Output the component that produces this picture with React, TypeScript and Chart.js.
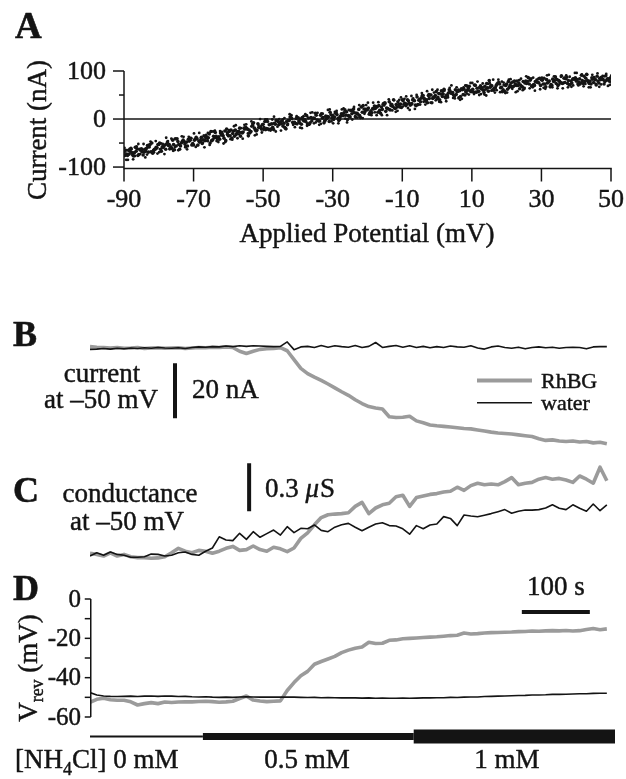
import React, { useEffect, useRef } from 'react';
import { Chart, registerables } from 'chart.js';

Chart.register(...registerables);

const FONT = '"Liberation Serif", "Times New Roman", serif';
const INK = '#141414';
const GREY = '#9b9b9b';

// ---------- Panel A : I-V relation ----------
const potentialStart = -90;
const potentialStep = 1;
const sweepOffsets = [0, 0.25, 0.5, 0.75, 0.125, 0.625];
const potentialTicks = [-90, -70, -50, -30, -10, 10, 30, 50];
const currentTicks = [-100, -50, 0, 50, 100];
const currentLabels = [-100, 0, 100];

const sweep1 = [
  -69, -76, -61, -70, -76, -62, -63, -69, -50, -63,
  -53, -58, -63, -53, -44, -56, -63, -44, -48, -44,
  -54, -41, -45, -35, -45, -26, -39, -42, -33, -25,
  -35, -40, -23, -26, -29, -17, -23, -10, -25, -17,
  -11, -20, -11, -22, -3, -6, -9, -12, 3, -7,
  2, -11, -1, 2, -4, 12, -4, 2, 6, -5,
  7, 13, 3, 7, 15, 4, 21, 12, 3, 21,
  20, 17, 27, 14, 25, 34, 21, 30, 22, 30,
  40, 28, 33, 40, 28, 41, 49, 40, 50, 45,
  42, 52, 62, 48, 54, 48, 58, 63, 50, 64,
  59, 70, 58, 65, 62, 80, 61, 70, 73, 61,
  73, 70, 68, 79, 71, 63, 78, 84, 70, 77,
  82, 73, 77, 70, 88, 80, 74, 84, 71, 83,
  79, 84, 74, 93, 79, 76, 89, 82, 73, 84,
  87,
];
const sweep2 = [
  -76, -65, -70, -59, -74, -64, -67, -58, -71, -59,
  -50, -59, -52, -61, -53, -41, -56, -47, -56, -40,
  -44, -54, -38, -45, -39, -45, -28, -37, -31, -45,
  -26, -30, -32, -19, -27, -20, -28, -8, -23, -16,
  -18, -5, -21, -9, -5, -10, -18, -3, 1, -9,
  -4, 3, -5, -11, 1, 8, -4, 3, 1, 14,
  -1, 9, 6, 13, -1, 18, 13, 10, 25, 15,
  23, 13, 22, 28, 20, 16, 36, 26, 30, 25,
  38, 31, 29, 39, 46, 36, 43, 34, 50, 46,
  45, 59, 46, 54, 53, 61, 44, 61, 57, 68,
  62, 56, 66, 60, 74, 66, 60, 73, 65, 71,
  62, 75, 79, 70, 68, 75, 86, 69, 78, 75,
  81, 67, 79, 83, 74, 78, 75, 87, 72, 84,
  82, 75, 89, 80, 73, 84, 79, 87, 78, 83,
  76,
];
const sweep3 = [
  -65, -73, -75, -67, -63, -75, -61, -53, -65, -60,
  -63, -55, -48, -58, -64, -47, -50, -52, -42, -54,
  -42, -46, -51, -39, -31, -43, -36, -42, -35, -21,
  -35, -25, -29, -36, -19, -21, -26, -19, -10, -21,
  -5, -21, -10, -11, -12, -4, -20, -3, -7, 1,
  -8, -2, 7, -8, 2, -2, 8, -8, 5, 9,
  4, 1, 11, 19, 7, 11, 5, 20, 14, 20,
  10, 22, 26, 18, 31, 23, 19, 40, 25, 31,
  31, 40, 30, 38, 30, 44, 41, 49, 34, 49,
  53, 47, 44, 61, 55, 51, 59, 51, 69, 59,
  56, 64, 69, 55, 65, 70, 64, 75, 66, 57,
  78, 67, 73, 75, 67, 79, 73, 67, 77, 85,
  73, 82, 67, 78, 82, 76, 85, 74, 79, 83,
  73, 91, 78, 77, 86, 82, 75, 83, 90, 79,
  86,
];
const sweep4 = [
  -73, -67, -77, -62, -65, -69, -55, -68, -63, -53,
  -67, -54, -55, -61, -41, -53, -47, -57, -46, -51,
  -38, -48, -43, -37, -50, -36, -40, -29, -40, -32,
  -23, -36, -26, -28, -21, -35, -15, -23, -17, -12,
  -22, -12, -17, -3, -10, -15, -5, 4, -8, -10,
  0, -4, -10, 3, 1, -3, 11, -4, 4, 2,
  12, -3, 10, 8, 6, 17, 12, 7, 28, 19,
  14, 21, 25, 12, 29, 22, 28, 23, 36, 24,
  33, 38, 32, 29, 39, 49, 37, 43, 43, 57,
  40, 52, 50, 58, 50, 57, 47, 62, 60, 57,
  71, 57, 63, 68, 58, 69, 65, 76, 57, 70,
  66, 77, 70, 63, 78, 74, 81, 72, 77, 70,
  85, 75, 72, 80, 70, 90, 76, 80, 75, 86,
  77, 80, 85, 74, 83, 71, 85, 82, 81, 85,
  80,
];
const sweep5 = [
  -60, -85, -63, -77, -52, -69, -80, -54, -68, -46,
  -69, -52, -39, -63, -66, -42, -55, -37, -63, -40,
  -30, -55, -40, -59, -29, -45, -24, -48, -27, -48,
  -23, -43, -13, -32, -41, -11, -30, -14, -32, 0,
  -23, -1, -24, 5, -16, -24, 2, -10, 8, -17,
  3, -19, 10, -12, 14, -7, -12, 11, -1, 20,
  -9, 17, -1, 22, -7, 17, 25, 3, 25, 11,
  34, 8, 14, 35, 8, 32, 41, 18, 15, 40,
  26, 47, 19, 43, 50, 30, 36, 58, 34, 55,
  61, 35, 59, 45, 70, 43, 61, 42, 70, 51,
  75, 56, 50, 74, 49, 75, 82, 60, 56, 76,
  55, 83, 78, 58, 84, 65, 87, 68, 59, 84,
  86, 63, 92, 66, 85, 72, 64, 91, 88, 70,
  96, 72, 68, 92, 66, 87, 95, 72, 89, 69,
  91,
];
const sweep6 = [
  -85, -62, -84, -57, -73, -52, -74, -47, -69, -72,
  -51, -73, -46, -41, -58, -65, -36, -59, -37, -54,
  -58, -29, -49, -33, -54, -26, -46, -25, -51, -28,
  -42, -15, -40, -19, -12, -30, -5, -34, -12, -28,
  -1, -23, -1, -26, 0, -1, -21, 10, -12, 6,
  -18, 6, -14, 13, -9, 13, -10, -4, 19, -5,
  15, -9, 20, 1, 19, -1, 3, 29, 2, 29,
  11, 34, 8, 13, 33, 8, 32, 39, 17, 45,
  42, 23, 48, 21, 30, 54, 30, 52, 61, 39,
  36, 57, 37, 65, 44, 66, 40, 66, 53, 75,
  52, 78, 52, 51, 73, 59, 55, 82, 78, 54,
  82, 63, 56, 81, 60, 89, 64, 86, 82, 62,
  65, 91, 68, 89, 64, 88, 86, 66, 67, 96,
  70, 93, 73, 66, 92, 73, 67, 90, 94, 71,
  69,
];
const sweeps = [sweep1, sweep2, sweep3, sweep4, sweep5, sweep6];

// ---------- Panels B-D : time courses (10 s sampling) ----------
const timeStep = 10;
const timeMax = 772;

const rhbgCurrent = [
  0.5, 0.3, 0.2, 0, 0.2, -0.1, 0, 0.2, -0.2, 0,
  0.1, -0.1, 0, 0.1, -0.2, 0, 0.2, 0.1, 0.3, 0.2,
  0.4, 0.2, -1.2, -2, -1.2, -0.5, -0.3, -0.2, 0.1, -1.0,
  -4.2, -7.4, -9.3, -10.6, -11.8, -13.1, -14.5, -15.9, -17.2, -18.8,
  -20.2, -21.3, -21.8, -22.2, -25, -25.3, -25.2, -24.8, -26.5, -27.2,
  -28, -28.3, -28.5, -28.7, -29, -29.3, -29.4, -29.8, -30.2, -30.6,
  -30.9, -31.1, -31.3, -31.6, -31.9, -32.2, -33, -33.6, -33.4, -33.8,
  -34, -33.8, -34.2, -34, -34.5, -34.3, -34.8,
];
const waterCurrent = [
  -0.5, -0.4, -0.2, -0.4, -0.1, -0.3, 0, -0.2, 0.1, -0.1,
  0.2, 0, -0.1, 0.1, -0.2, 0.2, 0.4, 0.3, 0.5, 0.4,
  0.7, 0.5, 0.8, 0.6, 0.8, 0.7, 0.6, 0.5, 0.6, 2.2,
  -0.6, 0.4, 0.6, 0.2, 0.9, 0.3, 0.8, 0.5, 0.3, 0.9,
  0.2, 0.6, 2.0, 0.2, 0.6, 0.9, 0.3, 0.8, 0.2, 0.6,
  0.1, 0.5, 0.2, 0.7, 0.4, 0.3, 0.8, 0, -0.4, 0.4,
  0.7, 0.2, -0.1, 0.3, -0.3, 0.2, 0.4, 0.1, 0.3, -0.1,
  0.2, 0.3, 0.2, -0.3, 0.4, 0.5, 0.5,
];
const rhbgConductance = [
  0.017, 0.01, 0, 0.02, 0, 0.01, -0.005, -0.01, -0.01, -0.014,
  -0.012, -0.005, 0.02, 0.048, 0.03, 0.02, 0.035, 0.03, 0.017, 0.03,
  0.048, 0.06, 0.035, 0.04, 0.0625, 0.04, 0.03, 0.055, 0.045, 0.027,
  0.05, 0.11, 0.145, 0.195, 0.24, 0.258, 0.262, 0.265, 0.27, 0.31,
  0.335, 0.265, 0.3, 0.32, 0.33, 0.37, 0.38, 0.31, 0.365, 0.375,
  0.385, 0.39, 0.4, 0.405, 0.43, 0.41, 0.44, 0.455, 0.445, 0.45,
  0.445, 0.465, 0.49, 0.445, 0.455, 0.46, 0.48, 0.49, 0.48, 0.485,
  0.475, 0.46, 0.5, 0.48, 0.455, 0.555, 0.47,
];
const waterConductance = [
  0, 0.02, 0.005, 0.025, 0.01, 0.005, -0.008, -0.008, -0.005, 0.012,
  0.01, 0, 0.005, 0.02, 0.025, 0.01, 0.005, 0.03, 0.05, 0.12,
  0.1, 0.096, 0.142, 0.104, 0.152, 0.117, 0.14, 0.162, 0.131, 0.183,
  0.146, 0.173, 0.17, 0.194, 0.16, 0.152, 0.18, 0.195, 0.204, 0.18,
  0.158, 0.18, 0.2, 0.208, 0.19, 0.1875, 0.17, 0.136, 0.19, 0.17,
  0.194, 0.2, 0.246, 0.235, 0.19, 0.256, 0.25, 0.245, 0.255, 0.265,
  0.277, 0.29, 0.267, 0.28, 0.287, 0.287, 0.29, 0.3, 0.32, 0.298,
  0.29, 0.32, 0.298, 0.28, 0.325, 0.283, 0.32,
];
const rhbgVrev = [
  -52.5, -51, -50.5, -51.2, -51.5, -51.5, -52.3, -53.9, -53.2, -52.7,
  -53.2, -52.4, -52.6, -52.4, -52.3, -52.3, -52.1, -52, -52.2, -52.5,
  -52.3, -52, -50.6, -49.3, -51.4, -51.9, -52.2, -52, -51.8, -46.5,
  -42.5, -39, -36.8, -33.2, -31.8, -30.5, -29.2, -27.3, -26, -25,
  -24.4, -22, -22.6, -22.5, -21, -20.8, -20.2, -20, -19.8, -19.6,
  -19.4, -19.2, -18.9, -18.6, -18.4, -17.3, -17.8, -17.6, -17.3, -17.1,
  -17, -16.9, -16.8, -16.6, -16.5, -16.3, -16.4, -16.2, -16.1, -16.2,
  -16, -16.3, -16.1, -15.5, -15, -15.6, -15.2,
];
const waterVrev = [
  -47.6, -48.8, -49.3, -49.5, -49.6, -49.5, -49.4, -49.6, -49.4, -49.3,
  -49.5, -49.3, -49.4, -49.6, -49.5, -49.7, -49.8, -49.7, -49.9, -50.0,
  -49.9, -50.0, -49.8, -49.7, -49.8, -49.9, -49.8, -49.9, -49.9, -49.8,
  -49.9, -50.0, -50.1, -50.0, -50.2, -50.1, -50.2, -50.3, -50.2, -50.3,
  -50.4, -50.3, -50.5, -50.4, -50.5, -50.5, -50.4, -50.5, -50.4, -50.3,
  -50.3, -50.2, -50.2, -50.0, -50.1, -49.9, -49.8, -49.8, -49.6, -49.5,
  -49.4, -49.3, -49.2, -49.1, -49.0, -48.8, -48.8, -48.7, -48.5, -48.5,
  -48.4, -48.3, -48.2, -48.2, -48.0, -47.9, -47.9,
];
const vrevTicks = [0, -10, -20, -30, -40, -50, -60];
const vrevLabels = [0, -20, -40, -60];

// [NH4Cl] protocol (s)
const nh4Labels = ['0 mM', '0.5 mM', '1 mM'];
const nh4Start = [0, 166, 476];
const nh4End = [166, 476, 772];

// scale bars (in data units)
const currentBar = { t: 125, from: -5.5, size: 20 }; // 20 nA
const conductanceBar = { t: 234, from: 0.58, size: 0.3 }; // 0.3 µS
const timeBar = { from: 635, size: 100, v: -6.6 }; // 100 s

// ---------- helpers ----------
type Opt = { align?: CanvasTextAlign; base?: CanvasTextBaseline; bold?: boolean; italic?: boolean };
function txt(ctx: CanvasRenderingContext2D, s: string, x: number, y: number, size: number, o: Opt = {}) {
  ctx.save();
  ctx.font = `${o.italic ? 'italic ' : ''}${o.bold ? 'bold ' : ''}${size}px ${FONT}`;
  ctx.fillStyle = INK;
  ctx.strokeStyle = INK;
  ctx.lineWidth = o.bold ? 0.6 : 0.45;
  ctx.lineJoin = 'round';
  ctx.textAlign = o.align || 'left';
  ctx.textBaseline = o.base || 'alphabetic';
  ctx.fillText(s, x, y);
  ctx.strokeText(s, x, y);
  ctx.restore();
}
function seg(ctx: CanvasRenderingContext2D, x1: number, y1: number, x2: number, y2: number, w: number, c = INK) {
  ctx.save();
  ctx.strokeStyle = c;
  ctx.lineWidth = w;
  ctx.lineCap = 'butt';
  ctx.beginPath();
  ctx.moveTo(x1, y1);
  ctx.lineTo(x2, y2);
  ctx.stroke();
  ctx.restore();
}
const series = (arr: number[]) => arr.map((v, i) => ({ x: i * timeStep, y: v }));

const TOP_H = 260;
const BOT_TOP = 260;
const BOT_H = 519;
function rangeFor(zeroPageY: number, pxPerUnit: number) {
  return {
    min: (zeroPageY - (BOT_TOP + BOT_H)) / pxPerUnit,
    max: (zeroPageY - BOT_TOP) / pxPerUnit,
  };
}

const panelAPlugin = {
  id: 'panelA',
  afterDraw(chart: any) {
    const { ctx, chartArea: ca } = chart;
    const xs = chart.scales.x;
    const ys = chart.scales.y;
    seg(ctx, ca.left, ca.top, ca.left, ca.bottom + 0.75, 1.5);
    seg(ctx, ca.left, ca.bottom, ca.right + 0.75, ca.bottom, 1.5);
    potentialTicks.forEach((v) => {
      const px = xs.getPixelForValue(v);
      seg(ctx, px, ca.bottom, px, ca.bottom + 13, 1.5);
      txt(ctx, String(v), px, ca.bottom + 32, 26, { align: 'center', base: 'middle' });
    });
    currentTicks.forEach((v) => {
      const py = ys.getPixelForValue(v);
      const major = currentLabels.includes(v);
      seg(ctx, ca.left - (major ? 11 : 5), py, ca.left, py, 1.5);
      if (major) txt(ctx, String(v), ca.left - 18, py + 1, 26, { align: 'right', base: 'middle' });
    });
    txt(ctx, 'A', 15, 38, 37, { bold: true });
    txt(ctx, 'Applied Potential (mV)', 367, 242, 27, { align: 'center' });
    ctx.save();
    ctx.translate(46, 130);
    ctx.rotate(-Math.PI / 2);
    txt(ctx, 'Current (nA)', 0, 0, 27, { align: 'center' });
    ctx.restore();
  },
};

const panelBCDPlugin = {
  id: 'panelBCD',
  afterDraw(chart: any) {
    const { ctx } = chart;
    const o = BOT_TOP;
    const yD = chart.scales.yD;
    const xs = chart.scales.x;
    // D axis
    const ax = xs.getPixelForValue(0) + 0.75;
    seg(ctx, ax, yD.getPixelForValue(0), ax, yD.getPixelForValue(-60), 1.5);
    vrevTicks.forEach((v) => {
      const py = yD.getPixelForValue(v);
      seg(ctx, ax - 6, py, ax, py, 1.5);
      if (vrevLabels.includes(v)) txt(ctx, String(v), 81, py + 1, 25, { align: 'right', base: 'middle' });
    });
    // panel letters
    txt(ctx, 'B', 13, 346 - o, 36, { bold: true });
    txt(ctx, 'C', 13, 502 - o, 36, { bold: true });
    txt(ctx, 'D', 13, 600 - o, 36, { bold: true });
    // B annotations
    txt(ctx, 'current', 102, 382 - o, 27, { align: 'center' });
    txt(ctx, 'at \u201350 mV', 101, 408 - o, 27, { align: 'center' });
    txt(ctx, '20 nA', 192, 398 - o, 27);
    // legend
    seg(ctx, 477, 380.5 - o, 532, 380.5 - o, 4, GREY);
    seg(ctx, 477, 402.7 - o, 532, 402.7 - o, 1.6, INK);
    txt(ctx, 'RhBG', 541, 388 - o, 22);
    txt(ctx, 'water', 541, 410 - o, 22);
    // C annotations
    txt(ctx, 'conductance', 130, 502 - o, 27, { align: 'center' });
    txt(ctx, 'at \u201350 mV', 127, 530 - o, 27, { align: 'center' });
    ctx.save();
    ctx.font = `27px ${FONT}`;
    const w03 = ctx.measureText('0.3 ').width;
    ctx.font = `italic 27px ${FONT}`;
    const wmu = ctx.measureText('\u03bc').width;
    ctx.restore();
    txt(ctx, '0.3 ', 265, 497 - o, 27);
    txt(ctx, '\u03bc', 265 + w03, 497 - o, 27, { italic: true });
    txt(ctx, 'S', 265 + w03 + wmu + 1, 497 - o, 27);
    // D annotations
    txt(ctx, '100 s', 556, 595 - o, 27, { align: 'center' });
    // Vrev axis title
    ctx.save();
    ctx.translate(37, 668 - o);
    ctx.rotate(-Math.PI / 2);
    ctx.font = `27px ${FONT}`;
    const wV = ctx.measureText('V').width;
    const wTail = ctx.measureText(' (mV)').width;
    ctx.font = `18px ${FONT}`;
    const wSub = ctx.measureText('rev').width;
    const start = -(wV + wSub + wTail) / 2;
    txt(ctx, 'V', start, 0, 27);
    txt(ctx, 'rev', start + wV, 6, 18);
    txt(ctx, ' (mV)', start + wV + wSub, 0, 27);
    ctx.restore();
    // [NH4Cl] labels
    ctx.save();
    ctx.font = `27px ${FONT}`;
    const wNH = ctx.measureText('[NH').width;
    ctx.font = `18px ${FONT}`;
    const w4 = ctx.measureText('4').width;
    ctx.restore();
    txt(ctx, '[NH', 15, 768 - o, 27);
    txt(ctx, '4', 15 + wNH, 775 - o, 18);
    txt(ctx, 'Cl] ' + nh4Labels[0], 15 + wNH + w4, 768 - o, 27);
    txt(ctx, nh4Labels[1], 307, 768 - o, 27, { align: 'center' });
    txt(ctx, nh4Labels[2], 507, 768 - o, 27, { align: 'center' });
  },
};

function traceDS(label: string, data: number[], axis: string, grey: boolean) {
  return {
    label,
    data: series(data),
    yAxisID: axis,
    borderColor: grey ? GREY : INK,
    borderWidth: grey ? 3.6 : 1.6,
    pointRadius: 0,
    borderJoinStyle: 'round' as const,
    tension: 0,
    order: grey ? 2 : 1,
  };
}
function barDS(label: string, pts: { x: number; y: number }[], axis: string, w: number) {
  return {
    label,
    data: pts,
    yAxisID: axis,
    borderColor: INK,
    borderWidth: w,
    borderCapStyle: 'butt' as const,
    pointRadius: 0,
    order: 0,
  };
}

export default function App() {
  const refA = useRef<HTMLCanvasElement>(null);
  const refB = useRef<HTMLCanvasElement>(null);

  useEffect(() => {
    const chartA = new Chart(refA.current as HTMLCanvasElement, {
      type: 'scatter',
      data: {
        datasets: [
          {
            type: 'line',
            label: 'zero current',
            data: [
              { x: potentialStart, y: 0 },
              { x: potentialTicks[potentialTicks.length - 1], y: 0 },
            ],
            borderColor: INK,
            borderWidth: 1.5,
            pointRadius: 0,
            order: 2,
          } as any,
          ...sweeps.map((s, k) => ({
            label: `sweep ${k + 1}`,
            data: s.map((v, i) => ({ x: potentialStart + i * potentialStep + sweepOffsets[k], y: v })),
            pointRadius: k < 4 ? 1.8 : 1.4,
            pointBackgroundColor: INK,
            pointBorderWidth: 0,
            showLine: false,
            order: 1,
          })),
        ],
      },
      options: {
        responsive: false,
        animation: false,
        devicePixelRatio: 1,
        events: [],
        layout: { padding: { left: 124, right: 15, top: 71, bottom: 91.5 } },
        plugins: { legend: { display: false }, tooltip: { enabled: false } },
        scales: {
          x: { type: 'linear', display: false, min: -90, max: 50 },
          y: { type: 'linear', display: false, min: -103, max: 100 },
        },
      },
      plugins: [panelAPlugin],
    });

    const rB = rangeFor(348, 2.75);
    const rC = rangeFor(556, 160);
    const rD = rangeFor(599, 118 / 60);
    const rBar = rangeFor(736.5, 1);

    const chartB = new Chart(refB.current as HTMLCanvasElement, {
      type: 'line',
      data: {
        datasets: [
          traceDS('water current', waterCurrent, 'yB', false),
          traceDS('RhBG current', rhbgCurrent, 'yB', true),
          traceDS('water conductance', waterConductance, 'yC', false),
          traceDS('RhBG conductance', rhbgConductance, 'yC', true),
          traceDS('water Vrev', waterVrev, 'yD', false),
          traceDS('RhBG Vrev', rhbgVrev, 'yD', true),
          barDS('20 nA', [
            { x: currentBar.t, y: currentBar.from },
            { x: currentBar.t, y: currentBar.from - currentBar.size },
          ], 'yB', 4),
          barDS('0.3 uS', [
            { x: conductanceBar.t, y: conductanceBar.from },
            { x: conductanceBar.t, y: conductanceBar.from - conductanceBar.size },
          ], 'yC', 4),
          barDS('100 s', [
            { x: timeBar.from, y: timeBar.v },
            { x: timeBar.from + timeBar.size, y: timeBar.v },
          ], 'yD', 4),
          ...nh4Labels.map((l, i) =>
            barDS(l, [
              { x: nh4Start[i], y: 0 },
              { x: nh4End[i], y: 0 },
            ], 'yBar', [2, 7, 14][i])
          ),
        ] as any,
      },
      options: {
        responsive: false,
        animation: false,
        devicePixelRatio: 1,
        events: [],
        layout: { padding: { left: 90, right: 626 - 615, top: 0, bottom: 0 } },
        plugins: { legend: { display: false }, tooltip: { enabled: false } },
        scales: {
          x: { type: 'linear', display: false, min: 0, max: timeMax },
          yB: { type: 'linear', display: false, ...rB },
          yC: { type: 'linear', display: false, ...rC },
          yD: { type: 'linear', display: false, ...rD },
          yBar: { type: 'linear', display: false, ...rBar },
        },
      } as any,
      plugins: [panelBCDPlugin],
    });

    return () => {
      chartA.destroy();
      chartB.destroy();
    };
  }, []);

  return (
    <div style={{ position: 'absolute', left: 0, top: 0, width: 626, height: 779, background: '#fff' }}>
      <canvas
        ref={refA}
        width={626}
        height={TOP_H}
        style={{ position: 'absolute', left: 0, top: 0, width: 626, height: TOP_H }}
      />
      <canvas
        ref={refB}
        width={626}
        height={BOT_H}
        style={{ position: 'absolute', left: 0, top: BOT_TOP, width: 626, height: BOT_H }}
      />
    </div>
  );
}
